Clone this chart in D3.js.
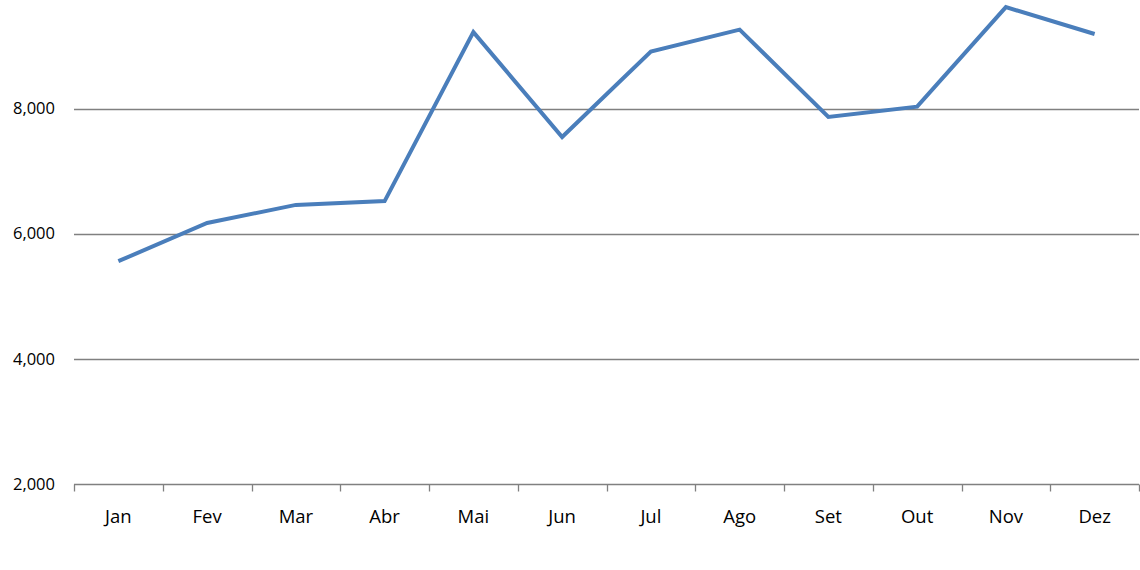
<!DOCTYPE html>
<html>
<head>
<meta charset="utf-8">
<script src="https://cdn.jsdelivr.net/npm/d3@7"></script>
<style>
  body { margin: 0; background: #fff; }
  svg { display: block; }
</style>
</head>
<body>
<div class="chart"></div>
<script>
// Parameters
const width = 1140;
const height = 570;
const margin = { left: 74, right: 1, axisY: 484, top8000: 108.5 };

// Data
const months = ['Jan', 'Fev', 'Mar', 'Abr', 'Mai', 'Jun', 'Jul', 'Ago', 'Set', 'Out', 'Nov', 'Dez'];
const values = [5560, 6170, 6460, 6520, 9220, 7545, 8910, 9260, 7865, 8030, 9620, 9190];
const yTicks = [2000, 4000, 6000, 8000];

const svg = d3.select('.chart')
    .append('svg')
    .attr('width', width)
    .attr('height', height)
    .style('font-family', '"Open Sans", "Noto Sans", sans-serif');

// scales (y extends above the visible area, top is cut off like the original)
const scaleX = d3.scaleBand()
    .domain(months)
    .range([margin.left, width - margin.right]);

const scaleY = d3.scaleLinear()
    .domain([2000, 8000])
    .range([margin.axisY, margin.top8000]);

// gridlines
svg.append('g')
    .selectAll('line')
    .data(yTicks.filter(d => d !== 2000))
    .join('line')
    .attr('x1', margin.left)
    .attr('x2', width - margin.right)
    .attr('y1', d => Math.round(scaleY(d)) + 0.5)
    .attr('y2', d => Math.round(scaleY(d)) + 0.5)
    .attr('stroke', '#808080')
    .attr('stroke-width', 1.3);

// y labels
svg.append('g')
    .attr('text-anchor', 'end')
    .attr('font-size', 16.5)
    .attr('fill', '#000')
    .selectAll('text')
    .data(yTicks)
    .join('text')
    .attr('x', margin.left - 19)
    .attr('y', d => scaleY(d))
    .attr('dy', '0.35em')
    .text(d => d3.format(',')(d));

// x axis
const xAxis = svg.append('g')
    .attr('transform', `translate(0, ${Math.round(margin.axisY) + 0.5})`);
xAxis.append('line')
    .attr('x1', margin.left)
    .attr('x2', width - margin.right)
    .attr('stroke', '#808080')
    .attr('stroke-width', 1.3);
xAxis.selectAll('line.tick')
    .data(months.concat(['end']))
    .join('line')
    .attr('class', 'tick')
    .attr('x1', (d, i) => Math.round(i < months.length ? scaleX(d) : scaleX.range()[1]) + 0.5)
    .attr('x2', (d, i) => Math.round(i < months.length ? scaleX(d) : scaleX.range()[1]) + 0.5)
    .attr('y1', 0)
    .attr('y2', 7)
    .attr('stroke', '#808080')
    .attr('stroke-width', 1.3);
xAxis.selectAll('text')
    .data(months)
    .join('text')
    .attr('x', d => scaleX(d) + scaleX.bandwidth() / 2)
    .attr('y', 38.5)
    .attr('text-anchor', 'middle')
    .attr('font-size', 18.5)
    .attr('fill', '#000')
    .text(d => d);

// line
const line = d3.line()
    .x((d, i) => scaleX(months[i]) + scaleX.bandwidth() / 2)
    .y(d => scaleY(d));

svg.append('path')
    .datum(values)
    .attr('d', line)
    .attr('fill', 'none')
    .attr('stroke', '#4a7ebb')
    .attr('stroke-width', 4)
    .attr('stroke-linejoin', 'miter')
    .attr('stroke-linecap', 'butt');
</script>
</body>
</html>
